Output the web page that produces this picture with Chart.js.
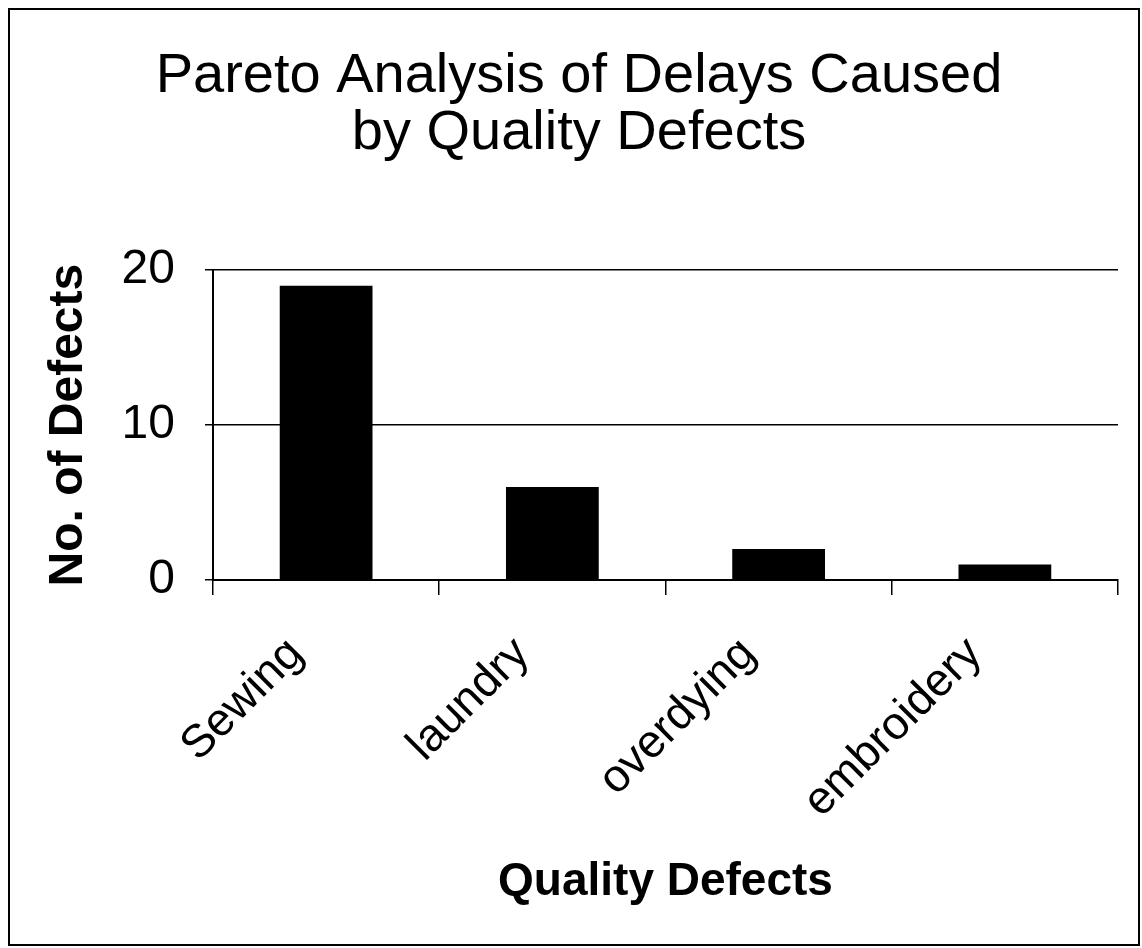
<!DOCTYPE html>
<html>
<head>
<meta charset="utf-8">
<title>Pareto Analysis of Delays Caused by Quality Defects</title>
<script src="https://cdn.jsdelivr.net/npm/chart.js@4.4.1/dist/chart.umd.min.js"></script>
<style>
    html, body { margin: 0; padding: 0; background: #fff; }
    .chart-frame {
        position: absolute;
        left: 8px;
        top: 8px;
        width: 1132px;
        height: 938px;
        box-sizing: border-box;
        border: 2px solid #000;
        background: #fff;
    }
    .chart-frame canvas { display: block; }
</style>
</head>
<body>
<div class="chart-frame">
    <canvas id="paretoChart" width="1128" height="934"></canvas>
</div>
<script>
const categories = ['Sewing', 'laundry', 'overdying', 'embroidery'];
const defectCounts = [19, 6, 2, 1];
const yTicks = [0, 10, 20];
const titleLines = ['Pareto Analysis of Delays Caused', 'by Quality Defects'];
const yAxisTitle = 'No. of Defects';
const xAxisTitle = 'Quality Defects';

const fontFamily = '"Liberation Sans", Arial, Helvetica, sans-serif';
const black = '#000000';

// right edge of the plot box comes from the last category grid line
const lastIndex = categories.length;

new Chart(document.getElementById('paretoChart'), {
    type: 'bar',
    data: {
        labels: categories,
        datasets: [{
            label: 'Defects',
            data: defectCounts,
            backgroundColor: black,
            borderWidth: 0,
            categoryPercentage: 1.0,
            barPercentage: 0.41
        }]
    },
    options: {
        responsive: false,
        animation: false,
        layout: { padding: { left: 30, right: 20, top: 0, bottom: 34 } },
        plugins: {
            legend: { display: false },
            tooltip: { enabled: false },
            title: {
                display: true,
                text: titleLines,
                color: black,
                font: { family: fontFamily, size: 56, weight: 'normal', lineHeight: 1.02 },
                padding: { top: 38, bottom: 108 }
            }
        },
        scales: {
            x: {
                grid: {
                    offset: true,
                    drawOnChartArea: true,
                    color: (ctx) => ctx.index === lastIndex ? black : 'rgba(0,0,0,0)',
                    tickColor: black,
                    tickLength: 15,
                    lineWidth: 1.5
                },
                border: { display: true, color: black, width: 2 },
                ticks: {
                    color: black,
                    font: { family: fontFamily, size: 46 },
                    minRotation: 45,
                    maxRotation: 45,
                    padding: 32,
                    labelOffset: -30
                },
                title: {
                    display: true,
                    text: xAxisTitle,
                    color: black,
                    font: { family: fontFamily, size: 46, weight: 'bold' },
                    padding: { top: -6, bottom: 0 }
                }
            },
            y: {
                min: 0,
                max: 20,
                afterBuildTicks: (axis) => { axis.ticks = yTicks.map(v => ({ value: v })); },
                grid: {
                    color: black,
                    lineWidth: 1.5,
                    tickLength: 8
                },
                border: { display: true, color: black, width: 2 },
                ticks: {
                    color: black,
                    font: { family: fontFamily, size: 48 },
                    padding: 30
                },
                title: {
                    display: true,
                    text: yAxisTitle,
                    color: black,
                    font: { family: fontFamily, size: 48, weight: 'bold' },
                    padding: { top: 0, bottom: -6 }
                }
            }
        }
    }
});
</script>
</body>
</html>
